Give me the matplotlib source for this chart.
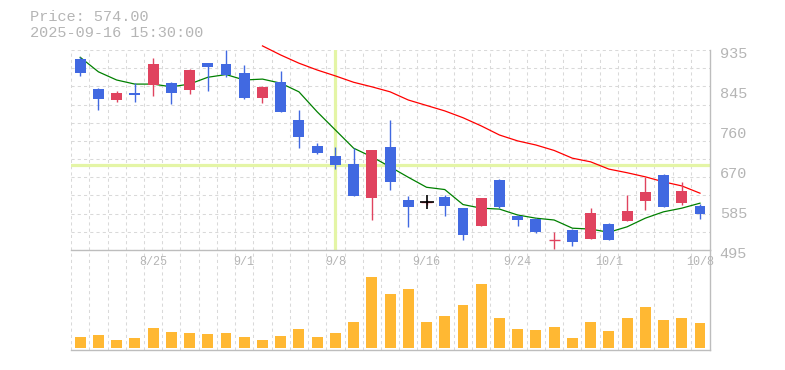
import matplotlib
matplotlib.use("Agg")
import matplotlib.pyplot as plt
import matplotlib.transforms as mtransforms
import numpy as np

# ---------------- data ----------------
dates = ["8/19", "8/20", "8/21", "8/22", "8/25", "8/26", "8/27", "8/28", "8/29",
         "9/1", "9/2", "9/3", "9/4", "9/5", "9/8", "9/9", "9/10", "9/11", "9/12",
         "9/16", "9/17", "9/18", "9/19", "9/22", "9/24", "9/25", "9/26", "9/29",
         "9/30", "10/1", "10/2", "10/3", "10/6", "10/7", "10/8"]

opens = [915, 849, 825, 841, 859, 862, 846, 906, 904, 884, 829, 865, 781, 724, 702,
         684, 610, 722, 605, 600, 612, 587, 548, 649, 570, 563, 516, 539, 520, 552,
         559, 603, 660, 599, 592]
highs = [920, 851, 845, 863, 918, 865, 894, 906, 935, 902, 856, 889, 804, 730, 722,
         720, 715, 781, 614, 606, 617, 588, 609, 651, 572, 565, 534, 541, 587, 554,
         616, 656, 662, 645, 596]
lows = [878, 802, 821, 821, 834, 816, 839, 845, 876, 827, 818, 799, 720, 707, 674,
        614, 562, 628, 546, 594, 570, 516, 548, 587, 547, 532, 497, 504, 520, 516,
        559, 583, 590, 595, 563]
closes = [885, 827, 840, 835, 904, 841, 891, 898, 879, 829, 854, 799, 744, 709, 681,
          614, 715, 645, 590, 600, 592, 529, 609, 589, 560, 534, 516, 512, 576, 516,
          581, 623, 590, 625, 574]

volumes = [110, 130, 80, 100, 200, 160, 150, 140, 150, 110, 80, 120, 190, 110, 150,
           260, 710, 540, 590, 260, 320, 430, 640, 300, 190, 180, 210, 100, 260, 170,
           300, 410, 280, 300, 250]

ma_short = [919, 887, 869, 860, 860, 854, 860, 875, 881, 869, 871, 862, 843, 799, 759,
            719, 700, 678, 655, 633, 628, 595, 587, 585, 572, 565, 561, 543, 541, 534,
            546, 565, 579, 587, 598]
ma_long_start = 10
ma_long = [944, 924, 906, 891, 878, 864, 854, 843, 825, 813, 801, 786, 768, 748, 735,
           726, 714, 697, 689, 673, 665, 656, 645, 636, 620]

ytick_vals = [495, 583, 671, 759, 847, 935]
ytick_labels = ["495", "585", "670", "760", "845", "935"]
xtick_idx = [4, 9, 14, 19, 24, 29, 34]

header_price = "Price: 574.00"
header_time = "2025-09-16 15:30:00"
cross_idx = 14
cross_price = 681
cursor_idx = 19
cursor_price = 600

# ---------------- style ----------------
UP = "#e0435f"
DOWN = "#4169e1"
VOL = "#ffb833"
GRID = "#d9d9d9"
SPINE = "#bdbdbd"
TXT = "#b5b5b5"
FONT = "Liberation Mono"

W, H = 785, 370
fig = plt.figure(figsize=(W / 100, H / 100), dpi=100)

def box(x0, y0, x1, y1):
    return [x0 / W, 1 - y1 / H, (x1 - x0) / W, (y1 - y0) / H]

ax = fig.add_axes(box(70.7, 50, 710, 250))
axv = fig.add_axes(box(70.7, 250, 710, 350))
axv.patch.set_alpha(0)
ax.set_zorder(2)
ax.patch.set_alpha(0)

x = np.arange(len(dates))
xlim = (-0.52, 34.55)

# grid helpers
def vgrid(a):
    for g in np.arange(-0.5, 34.0, 1.0):
        a.axvline(g, color=GRID, lw=0.75, ls=(0, (3, 3)), zorder=0)

vgrid(ax)
vgrid(axv)
for v in np.arange(495, 936, 40):
    ax.axhline(v, color=GRID, lw=0.75, ls=(0, (3, 3)), zorder=0)

# crosshair
ax.axvline(cross_idx, color="#e4f5a6", lw=2.3, zorder=1)
ax.axhline(cross_price, color="#e4f5a6", lw=2.3, zorder=1)

# moving averages
ax.plot(x, ma_short, color="#008000", lw=0.9, zorder=2)
ax.plot(x[ma_long_start:], ma_long, color="#ff0000", lw=0.9, zorder=2, clip_on=False)

# candles
bw = 0.6
for i in x:
    o, h, l, c = opens[i], highs[i], lows[i], closes[i]
    col = UP if c >= o else DOWN
    ax.vlines(i, l, h, color=col, lw=1.0, zorder=3)
    if c == o:
        ax.hlines(o, i - bw / 2, i + bw / 2, color=col, lw=1.0, zorder=3)
    else:
        ax.bar(i, abs(c - o), bottom=min(o, c), width=bw, color=col,
               edgecolor="none", zorder=4)

# cursor
ax.plot([cursor_idx], [cursor_price], marker="+", ms=9.5, mew=1.2, color="black",
        zorder=6)

ax.set_xlim(*xlim)
ax.set_ylim(495, 935)
for s in ["top", "left"]:
    ax.spines[s].set_visible(False)
for s in ["right", "bottom"]:
    ax.spines[s].set_color(SPINE)
    ax.spines[s].set_linewidth(1.0)

ax.yaxis.tick_right()
ax.set_yticks(ytick_vals)
ax.set_yticklabels(ytick_labels)
ax.tick_params(axis="y", length=0, pad=7, labelsize=11, labelcolor=TXT)
offset = mtransforms.ScaledTranslation(0, -3 / 100, fig.dpi_scale_trans)
for lab in ax.get_yticklabels():
    lab.set_fontfamily(FONT)
    lab.set_transform(lab.get_transform() + offset)

ax.set_xticks(xtick_idx)
ax.set_xticklabels([dates[i] for i in xtick_idx])
ax.tick_params(axis="x", length=0, pad=4, labelsize=8.5, labelcolor=TXT)
for lab in ax.get_xticklabels():
    lab.set_fontfamily(FONT)

# volume
axv.bar(x, volumes, width=bw, color=VOL, edgecolor="none", zorder=2)
axv.set_xlim(*xlim)
axv.set_ylim(-20, 980)
for s in ["top", "left"]:
    axv.spines[s].set_visible(False)
for s in ["right", "bottom"]:
    axv.spines[s].set_color(SPINE)
    axv.spines[s].set_linewidth(1.0)
axv.set_xticks([])
axv.set_yticks([])

# header
fig.text(30 / W, 1 - 17 / H, header_price, color=TXT, fontsize=11, family=FONT,
         va="center", ha="left")
fig.text(30 / W, 1 - 33 / H, header_time, color=TXT, fontsize=11, family=FONT,
         va="center", ha="left")

fig.savefig("out.png", dpi=100)
